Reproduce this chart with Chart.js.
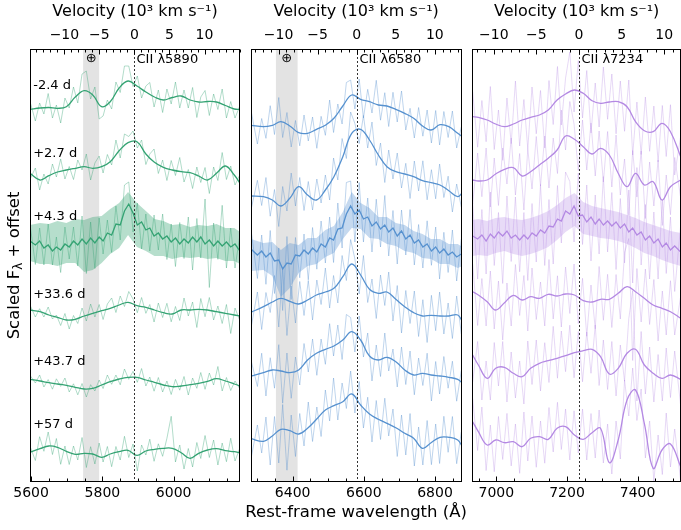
<!DOCTYPE html>
<html>
<head>
<meta charset="utf-8">
<script src="https://cdn.jsdelivr.net/npm/chart.js@4.4.1/dist/chart.umd.min.js"></script>
<style>
  body { margin: 0; background: #fff; }
  #wrap { position: relative; width: 681px; height: 530px; }
  #wrap canvas { position: absolute; left: 0; top: 0; }
</style>
</head>
<body>
<div id="wrap">
  <canvas id="c1" width="681" height="530"></canvas>
  <canvas id="c2" width="681" height="530"></canvas>
  <canvas id="c3" width="681" height="530"></canvas>
</div>
<script>
// ---------- tick labels / labels ----------
var waveTicks1 = [5600, 5800, 6000];
var waveTicks2 = [6400, 6600, 6800];
var waveTicks3 = [7000, 7200, 7400];
var velTicks = [-10, -5, 0, 5, 10];
var epochs = ['-2.4 d', '+2.7 d', '+4.3 d', '+33.6 d', '+43.7 d', '+57 d'];
var lineNames = ['CII λ5890', 'CII λ6580', 'CII λ7234'];
var lineRest = [5890, 6580, 7234];

// ---------- CII 5890 (green) ----------
var wlS1 = [5597, 5625, 5650, 5674, 5699, 5724, 5749, 5773, 5798, 5822, 5847, 5872, 5897, 5922, 5946, 5971, 5996, 6021, 6046, 6070, 6095, 6120, 6145, 6170, 6186];
var wlR1 = [5597, 5612, 5624, 5636, 5648, 5660, 5671, 5683, 5695, 5707, 5719, 5731, 5743, 5755, 5767, 5779, 5791, 5802, 5814, 5826, 5838, 5850, 5862, 5874, 5886, 5898, 5910, 5922, 5933, 5945, 5957, 5969, 5981, 5993, 6005, 6017, 6029, 6041, 6053, 6065, 6076, 6088, 6100, 6112, 6124, 6136, 6148, 6160, 6172, 6186];

var smooth1A = [37.25, 37.4, 37.45, 37.37, 37.53, 38.5, 39.13, 38.7, 37.53, 38.03, 39.4, 40.1, 39.6, 39.0, 38.5, 38.2, 38.45, 38.6, 38.2, 38.0, 38.05, 38.0, 37.65, 37.3, 37.25];
var raw1A = [38.05, 36.1, 37.9, 36.8, 38.85, 36.4, 37.7, 35.9, 38.4, 37.4, 39.5, 37.9, 40.8, 41.1, 38.3, 39.5, 36.3, 36.6, 38.2, 37.3, 40.0, 38.95, 41.6, 41.6, 39.55, 40.6, 38.4, 39.6, 39.95, 37.5, 39.2, 36.95, 39.3, 37.8, 40.0, 37.4, 39.2, 37.4, 39.45, 36.45, 38.5, 39.15, 36.65, 38.8, 37.25, 39.3, 36.4, 38.05, 36.4, 37.65];
var smooth1B = [30.87, 30.2, 30.63, 31.0, 31.2, 31.37, 31.53, 31.37, 31.53, 32.03, 33.13, 33.93, 34.03, 32.8, 31.97, 31.47, 31.2, 31.03, 30.93, 30.6, 30.2, 30.87, 31.6, 30.7, 29.87];
var raw1B = [30.27, 31.4, 29.2, 30.8, 29.8, 31.8, 30.5, 32.3, 30.3, 31.55, 30.25, 32.2, 31.2, 32.8, 30.2, 31.9, 32.6, 30.9, 32.75, 31.7, 34.2, 32.4, 34.8, 34.55, 35.1, 33.4, 34.2, 31.75, 32.8, 33.3, 30.85, 32.2, 30.15, 32.15, 30.65, 32.45, 30.0, 31.25, 29.35, 31.5, 29.95, 31.45, 28.85, 31.5, 30.15, 32.95, 30.25, 31.6, 29.7, 30.75];
var dark1C = [24.1, 23.7, 24.1, 23.4, 23.7, 23.1, 23.5, 23.2, 23.8, 23.5, 24.1, 23.7, 24.3, 23.8, 24.4, 23.9, 24.5, 24.1, 24.9, 24.7, 25.8, 25.7, 27.1, 27.8, 26.9, 25.7, 26.0, 25.2, 25.4, 24.6, 24.9, 24.3, 24.6, 24.0, 24.4, 23.8, 24.3, 23.9, 24.5, 24.0, 24.5, 23.8, 24.2, 23.6, 24.1, 23.6, 24.0, 23.5, 23.8, 23.1];
var raw1C = [25.8, 21.75, 25.4, 21.7, 25.8, 21.7, 24.5, 20.95, 25.5, 22.3, 25.5, 21.6, 26.6, 20.85, 26.0, 21.35, 26.4, 22.8, 26.2, 22.95, 27.6, 24.2, 29.7, 30.0, 25.0, 27.9, 23.3, 26.8, 23.1, 26.7, 23.2, 26.8, 22.25, 25.8, 21.55, 25.95, 22.35, 26.5, 21.2, 26.35, 22.4, 28.3, 19.45, 25.9, 22.27, 27.67, 21.4, 25.4, 21.4, 24.75];
var hi1C = [25.7, 25.9, 25.8, 26.1, 25.9, 26.3, 26.2, 26.5, 26.6, 27.3, 27.9, 29.0, 27.9, 27.1, 26.3, 26.1, 25.7, 25.8, 25.5, 25.7, 25.6, 25.8, 25.4, 25.4, 25.0];
var lo1C = [22.1, 21.8, 21.8, 21.6, 21.9, 21.9, 21.0, 21.2, 21.9, 22.8, 23.4, 24.7, 23.5, 23.1, 22.6, 22.6, 22.3, 22.5, 22.4, 22.5, 22.3, 22.4, 22.1, 22.1, 21.8];
var smooth1D = [17.2, 17.03, 16.7, 16.47, 16.2, 16.27, 16.6, 16.87, 17.13, 17.37, 17.7, 17.97, 17.63, 17.47, 17.2, 16.93, 16.8, 17.2, 17.2, 17.27, 17.2, 17.03, 16.87, 16.7, 16.6];
var raw1D = [17.7, 16.5, 17.33, 16.5, 17.5, 16.3, 16.7, 15.65, 16.85, 15.3, 16.65, 15.85, 17.4, 16.1, 17.8, 16.5, 17.75, 16.25, 17.8, 18.4, 16.95, 18.6, 17.55, 19.05, 18.3, 16.93, 18.45, 16.87, 17.75, 16.0, 17.9, 16.45, 17.87, 16.02, 17.55, 16.15, 18.4, 16.6, 18.0, 15.45, 18.35, 16.53, 18.45, 16.2, 17.6, 15.85, 17.75, 14.85, 17.4, 16.1];
var smooth1E = [10.27, 10.1, 9.93, 9.8, 9.67, 9.47, 9.3, 9.37, 9.7, 10.03, 10.3, 10.47, 10.47, 10.2, 9.97, 9.7, 9.53, 9.6, 9.73, 9.87, 10.07, 10.33, 10.1, 9.8, 9.6];
var raw1E = [10.67, 9.9, 10.7, 9.5, 10.24, 9.28, 10.32, 9.56, 10.4, 9.0, 9.82, 8.72, 9.85, 8.5, 9.73, 9.1, 10.2, 9.35, 10.7, 9.77, 10.7, 9.72, 11.3, 10.27, 11.07, 9.97, 11.35, 9.6, 10.5, 9.08, 10.45, 9.0, 10.1, 8.75, 10.26, 9.18, 10.55, 8.7, 10.4, 9.37, 10.95, 9.27, 10.9, 9.7, 11.55, 9.1, 10.45, 9.15, 10.1, 9.3];
var smooth1F = [2.97, 3.33, 3.6, 3.47, 3.07, 2.77, 2.87, 2.8, 2.47, 2.8, 3.03, 3.17, 2.67, 3.1, 3.27, 3.37, 3.37, 2.93, 2.37, 2.87, 3.2, 3.33, 3.13, 3.03, 2.93];
var raw1F = [3.57, 2.15, 4.53, 3.07, 5.0, 2.75, 4.35, 1.77, 3.6, 1.75, 3.6, 2.2, 4.45, 1.45, 3.53, 1.8, 3.9, 2.0, 3.55, 1.53, 3.55, 2.2, 4.57, 2.45, 3.8, 1.1, 3.7, 2.7, 4.28, 2.07, 3.82, 2.57, 4.37, 6.57, 2.0, 3.7, 1.3, 3.35, 1.5, 3.95, 2.35, 4.65, 2.45, 4.2, 1.7, 3.9, 2.03, 4.38, 2.1, 3.43];

// ---------- CII 6580 (blue) ----------
var wlS2 = [6283, 6318, 6343, 6367, 6392, 6417, 6442, 6467, 6492, 6516, 6541, 6566, 6591, 6616, 6641, 6665, 6690, 6715, 6740, 6765, 6789, 6814, 6839, 6864, 6877];
var wlR2 = [6283, 6301, 6313, 6325, 6337, 6349, 6361, 6372, 6384, 6396, 6408, 6420, 6432, 6444, 6456, 6468, 6480, 6492, 6504, 6515, 6527, 6539, 6551, 6563, 6575, 6587, 6599, 6611, 6623, 6635, 6647, 6659, 6670, 6682, 6694, 6706, 6718, 6730, 6742, 6754, 6766, 6778, 6790, 6802, 6813, 6825, 6837, 6849, 6861, 6874];

var smooth2A = [35.67, 35.53, 35.67, 36.03, 35.6, 34.93, 34.87, 35.27, 35.67, 36.37, 37.6, 38.7, 38.27, 38.03, 37.7, 37.6, 37.27, 36.87, 36.37, 35.6, 35.2, 35.73, 35.53, 34.87, 34.53];
var raw2A = [37.17, 33.8, 36.35, 34.37, 37.63, 34.75, 38.45, 34.45, 36.95, 33.5, 36.15, 33.62, 36.7, 34.1, 36.5, 33.37, 36.57, 34.67, 38.2, 34.95, 37.8, 35.8, 39.95, 40.2, 37.3, 40.3, 36.4, 39.27, 36.9, 40.17, 36.18, 38.93, 35.55, 38.97, 36.0, 39.1, 35.2, 37.37, 34.4, 37.45, 34.58, 37.2, 33.9, 37.15, 33.7, 37.05, 34.45, 37.1, 33.4, 35.5];
var smooth2B = [28.6, 28.53, 28.2, 27.6, 28.37, 29.53, 28.7, 28.2, 29.2, 30.53, 32.53, 34.87, 35.27, 34.2, 32.7, 31.53, 31.03, 30.8, 30.53, 30.13, 29.93, 29.7, 29.13, 28.53, 28.93];
var raw2B = [27.2, 30.17, 27.65, 30.45, 26.58, 29.25, 25.55, 29.55, 27.1, 30.9, 27.6, 30.45, 27.15, 30.05, 27.2, 30.3, 27.9, 30.7, 28.2, 32.4, 30.2, 34.35, 32.35, 37.0, 35.85, 33.85, 36.65, 33.4, 36.0, 31.65, 33.9, 29.95, 33.2, 30.3, 32.9, 29.4, 31.87, 28.35, 32.1, 29.1, 32.12, 28.22, 31.23, 28.32, 31.8, 28.45, 30.58, 27.0, 29.8, 27.5];
var dark2C = [23.3, 22.7, 23.1, 22.5, 22.9, 22.1, 22.2, 21.3, 21.9, 21.8, 22.7, 22.6, 23.2, 22.8, 23.4, 23.0, 23.8, 23.5, 24.4, 24.2, 25.3, 25.4, 26.8, 27.6, 26.8, 27.2, 26.3, 26.5, 25.6, 26.0, 25.3, 25.7, 25.0, 25.4, 24.6, 25.1, 24.3, 24.7, 23.9, 24.2, 23.5, 23.8, 23.1, 23.5, 22.9, 23.3, 22.7, 23.0, 22.5, 22.8];
var raw2C = [25.25, 20.35, 24.7, 19.77, 25.15, 18.85, 23.4, 17.15, 24.55, 18.25, 24.45, 20.42, 24.8, 20.22, 25.45, 21.28, 26.1, 21.9, 26.5, 21.95, 27.9, 23.4, 29.95, 30.1, 24.0, 29.95, 24.0, 28.4, 23.0, 28.28, 23.5, 28.65, 22.6, 27.15, 21.8, 27.2, 22.7, 27.25, 21.7, 25.75, 21.4, 26.12, 21.67, 25.5, 20.3, 24.97, 20.95, 25.2, 20.1, 24.3];
var hi2C = [24.3, 23.9, 24.0, 23.2, 23.9, 23.7, 24.4, 24.4, 25.2, 25.6, 27.0, 29.0, 27.9, 27.4, 26.5, 26.5, 25.9, 25.7, 25.1, 24.8, 24.3, 24.3, 23.8, 23.8, 23.5];
var lo2C = [21.1, 21.2, 20.6, 18.5, 19.4, 20.9, 21.6, 21.8, 22.5, 22.9, 24.3, 25.4, 25.3, 24.4, 24.3, 23.8, 23.6, 23.1, 22.9, 22.4, 22.3, 21.8, 21.8, 21.4, 21.6];
var smooth2D = [16.97, 17.53, 18.0, 18.37, 18.07, 17.8, 18.2, 18.7, 19.0, 19.37, 20.53, 21.8, 20.7, 19.27, 18.87, 19.0, 18.27, 17.53, 16.93, 16.6, 16.67, 16.6, 16.6, 16.7, 16.03];
var raw2D = [15.4, 19.0, 15.25, 18.95, 16.95, 20.65, 15.5, 21.3, 14.65, 19.6, 15.9, 20.05, 16.65, 20.15, 16.2, 20.2, 17.75, 21.4, 17.4, 20.65, 17.9, 22.65, 20.15, 24.25, 22.3, 18.8, 22.65, 17.95, 20.3, 16.35, 20.7, 17.65, 21.0, 16.1, 19.65, 14.9, 19.15, 15.85, 19.1, 14.55, 18.23, 13.95, 18.67, 15.13, 19.0, 14.8, 17.9, 14.35, 18.6, 14.8];
var smooth2E = [10.6, 10.93, 11.2, 11.1, 10.93, 11.2, 12.2, 12.87, 13.27, 13.6, 14.2, 15.03, 14.2, 12.6, 12.2, 12.47, 12.03, 11.2, 10.7, 10.87, 10.7, 10.6, 10.47, 10.27, 9.87];
var raw2E = [12.2, 9.55, 12.88, 8.6, 12.43, 9.38, 13.73, 7.88, 12.9, 8.37, 12.5, 9.7, 13.85, 11.0, 14.3, 10.67, 14.3, 11.77, 15.83, 12.6, 15.7, 12.25, 16.75, 16.45, 13.0, 16.6, 12.5, 14.9, 10.1, 13.7, 10.55, 14.9, 11.1, 13.3, 9.5, 13.5, 9.75, 13.1, 8.72, 12.4, 9.65, 12.88, 8.1, 12.05, 8.8, 12.55, 9.38, 12.08, 8.08, 11.15];
var smooth2F = [4.33, 4.07, 4.6, 5.27, 5.13, 4.8, 5.37, 6.27, 7.2, 7.63, 8.03, 8.8, 7.7, 6.8, 6.27, 5.87, 5.43, 4.87, 4.37, 3.37, 3.93, 4.47, 4.47, 4.2, 3.53];
var raw2F = [2.33, 5.7, 2.9, 6.5, 1.7, 6.55, 1.9, 7.75, 1.18, 6.7, 2.55, 6.85, 3.6, 8.0, 4.05, 7.5, 4.55, 9.2, 6.1, 10.4, 6.2, 9.9, 7.35, 11.1, 6.9, 10.05, 5.4, 8.48, 4.0, 8.15, 4.25, 8.38, 4.6, 7.3, 2.55, 6.7, 2.7, 6.85, 1.6, 5.5, 1.7, 6.15, 1.73, 5.8, 1.85, 6.57, 2.97, 6.55, 1.83, 5.0];

// ---------- CII 7234 (purple) ----------
var wlS3 = [6933, 6949, 6974, 6998, 7023, 7048, 7073, 7097, 7122, 7147, 7172, 7196, 7221, 7246, 7271, 7295, 7320, 7345, 7370, 7394, 7419, 7444, 7469, 7493, 7522];
var wlR3 = [6933, 6947, 6959, 6971, 6983, 6994, 7006, 7018, 7030, 7042, 7054, 7066, 7078, 7089, 7101, 7113, 7125, 7137, 7149, 7161, 7173, 7184, 7196, 7208, 7220, 7232, 7244, 7256, 7268, 7280, 7291, 7303, 7315, 7327, 7339, 7351, 7363, 7375, 7386, 7398, 7410, 7422, 7434, 7446, 7458, 7470, 7481, 7493, 7505, 7522];

var smooth3A = [36.53, 36.47, 36.2, 35.8, 35.53, 35.8, 36.2, 36.47, 36.7, 37.2, 38.2, 38.8, 39.2, 38.87, 38.13, 37.87, 38.0, 38.03, 37.53, 36.03, 35.13, 35.03, 35.87, 35.03, 32.53];
var raw3A = [39.03, 33.48, 38.15, 34.03, 39.55, 33.25, 37.2, 32.17, 38.4, 33.83, 40.1, 33.6, 38.25, 33.3, 39.5, 34.82, 39.15, 33.4, 40.15, 35.75, 41.55, 35.7, 40.4, 43.0, 37.0, 42.15, 36.4, 41.15, 34.9, 39.9, 35.5, 41.5, 36.27, 40.8, 34.82, 40.1, 35.07, 40.2, 32.7, 38.0, 32.75, 38.5, 33.07, 37.6, 32.0, 37.65, 32.55, 37.73, 30.7, 34.6];
var smooth3B = [30.2, 30.1, 30.2, 30.8, 31.27, 31.43, 30.6, 31.03, 31.7, 32.37, 33.2, 34.6, 34.27, 33.53, 32.8, 33.37, 32.7, 30.87, 29.53, 30.87, 29.7, 30.03, 28.2, 29.53, 30.2];
var raw3B = [27.8, 32.9, 28.53, 33.4, 27.5, 32.4, 27.65, 33.4, 29.8, 34.4, 28.7, 32.85, 27.2, 33.3, 29.3, 34.55, 29.6, 34.6, 29.4, 34.4, 30.85, 37.2, 33.2, 38.05, 35.8, 31.15, 36.2, 31.2, 35.9, 30.6, 35.1, 30.0, 35.05, 29.5, 34.7, 28.7, 32.3, 26.65, 33.15, 28.5, 33.1, 26.35, 32.0, 27.6, 32.2, 25.65, 30.7, 26.73, 32.45, 28.4];
var dark3C = [24.6, 24.3, 24.7, 24.1, 24.8, 24.4, 25.0, 24.6, 25.1, 24.4, 24.7, 24.2, 24.7, 24.3, 24.9, 24.6, 25.2, 24.9, 25.6, 25.5, 26.3, 26.1, 27.1, 26.8, 27.6, 26.6, 26.7, 26.0, 26.5, 25.8, 26.3, 25.7, 26.1, 25.6, 26.0, 25.4, 25.8, 25.0, 25.4, 24.7, 25.0, 24.2, 24.6, 23.9, 24.3, 23.5, 23.9, 23.2, 23.6, 23.0];
var raw3C = [27.9, 20.3, 27.25, 20.8, 29.0, 21.65, 26.95, 19.85, 28.6, 22.05, 28.5, 21.02, 26.95, 20.15, 27.85, 22.0, 29.75, 21.65, 28.25, 21.8, 29.65, 23.9, 31.0, 30.05, 24.0, 30.9, 23.75, 29.7, 22.1, 28.7, 22.8, 30.55, 23.0, 28.95, 21.25, 28.35, 21.9, 29.2, 19.9, 31.45, 21.7, 27.75, 20.3, 27.0, 20.3, 28.2, 20.85, 26.5, 19.05, 25.7];
var hi3C = [26.2, 26.3, 26.1, 26.4, 26.5, 26.3, 26.2, 26.4, 26.7, 27.1, 27.7, 28.4, 28.9, 28.0, 27.6, 27.4, 27.2, 27.0, 26.7, 26.4, 26.0, 25.7, 25.4, 25.1, 24.9];
var lo3C = [22.6, 22.7, 22.6, 22.9, 23.1, 22.8, 22.6, 22.8, 23.1, 23.5, 24.2, 25.0, 25.6, 24.8, 24.6, 24.4, 24.3, 24.1, 23.8, 23.4, 22.9, 22.6, 22.2, 21.9, 21.6];
var smooth3D = [19.03, 18.7, 18.03, 17.2, 17.93, 18.67, 18.2, 18.53, 18.37, 18.77, 18.6, 18.8, 18.7, 18.13, 18.0, 18.27, 18.27, 18.87, 19.53, 19.03, 18.37, 17.7, 17.37, 17.03, 16.37];
var raw3D = [21.8, 15.65, 20.35, 15.6, 21.1, 15.3, 20.1, 14.2, 19.9, 15.6, 21.75, 16.65, 20.65, 15.1, 21.4, 16.25, 20.0, 15.6, 22.25, 16.3, 20.62, 15.5, 21.5, 16.85, 21.8, 15.85, 20.37, 14.58, 19.7, 15.33, 21.55, 16.17, 20.77, 15.45, 20.75, 16.3, 22.95, 24.35, 12.15, 21.35, 16.0, 21.3, 15.75, 20.25, 14.1, 19.1, 14.7, 20.13, 14.7, 18.6];
var smooth3E = [12.7, 11.7, 10.37, 11.37, 11.47, 10.87, 10.53, 11.37, 11.87, 12.13, 12.37, 12.63, 12.93, 13.13, 13.27, 12.53, 10.8, 11.37, 12.87, 13.27, 11.7, 10.87, 10.37, 10.7, 10.27];
var raw3E = [10.0, 14.05, 8.2, 12.1, 8.2, 13.95, 9.6, 14.05, 8.0, 13.0, 8.4, 12.1, 7.8, 14.1, 9.75, 14.2, 9.1, 13.93, 9.95, 15.57, 10.38, 15.1, 11.03, 15.68, 10.42, 15.05, 10.02, 15.0, 10.87, 15.7, 9.65, 14.2, 9.25, 14.05, 8.6, 13.7, 10.08, 16.35, 19.15, 8.1, 15.05, 8.8, 13.5, 8.0, 12.75, 8.1, 13.4, 8.45, 13.1, 7.6];
var smooth3F = [6.03, 5.03, 3.7, 4.2, 3.93, 4.03, 3.53, 4.37, 4.53, 4.27, 5.37, 5.53, 4.7, 4.27, 4.93, 5.37, 1.93, 4.2, 8.2, 9.2, 5.87, 1.37, 3.2, 3.8, 1.53];
var raw3F = [8.35, 3.15, 7.5, 1.15, 5.7, 1.03, 6.55, 2.25, 6.86, 1.61, 5.8, 0.87, 7.0, 2.1, 6.6, 1.47, 6.1, 1.88, 7.45, 3.0, 7.97, 3.25, 7.3, 2.2, 7.12, 2.9, 7.3, 2.2, 6.85, 2.4, 7.2, 1.9, 5.8, 0.8, 6.1, 2.3, 10.2, 6.6, 11.4, 6.15, 9.3, 2.4, 6.1, 0.1, 4.7, 0.75, 6.9, 1.5, 5.3, 0.1];

// ---------- drawing ----------
var FONT = "'DejaVu Sans', sans-serif";
var C_KMS = 299792.458 / 1000;

function pts(xs, ys) {
    return xs.map(function (x, i) { return {x: x, y: ys[i]}; });
}
function rawSet(xs, ys, col) {
    return {data: pts(xs, ys), borderColor: col, borderWidth: 1, pointRadius: 0, tension: 0, fill: false, order: 3};
}
function smoothSet(xs, ys, col, tension) {
    return {data: pts(xs, ys), borderColor: col, borderWidth: 1.3, pointRadius: 0, tension: tension, fill: false, order: 1};
}
function bandSets(xs, hi, lo, col) {
    return [
        {data: pts(xs, hi), borderColor: 'rgba(0,0,0,0)', borderWidth: 1, pointRadius: 0, tension: 0, fill: '+1', backgroundColor: col, order: 2},
        {data: pts(xs, lo), borderColor: 'rgba(0,0,0,0)', borderWidth: 1, pointRadius: 0, tension: 0, fill: false, order: 2}
    ];
}

var decor = {
    id: 'decor',
    beforeDatasetsDraw: function (chart, args, o) {
        if (!o.telluric) return;
        var ctx = chart.ctx, a = chart.chartArea, sx = chart.scales.x;
        var t0 = sx.getPixelForValue(o.telluric[0]), t1 = sx.getPixelForValue(o.telluric[1]);
        ctx.save();
        ctx.fillStyle = '#e3e3e3';
        ctx.fillRect(t0, a.top, t1 - t0, a.bottom - a.top);
        ctx.restore();
    },
    afterDatasetsDraw: function (chart, args, o) {
        var ctx = chart.ctx, a = chart.chartArea;
        var sx = chart.scales.x, sv = chart.scales.x2, sy = chart.scales.y;
        ctx.save();

        // rest wavelength marker
        var xc = Math.round(sx.getPixelForValue(o.rest)) + 0.5;
        ctx.strokeStyle = '#333';
        ctx.lineWidth = 1;
        ctx.setLineDash([2, 2]);
        ctx.beginPath(); ctx.moveTo(xc, a.top); ctx.lineTo(xc, a.bottom); ctx.stroke();
        ctx.setLineDash([]);

        // frame
        ctx.strokeStyle = '#000';
        var L = Math.floor(a.left) + 0.5, T = Math.floor(a.top) + 0.5;
        var R = Math.ceil(a.right) - 0.5, B = Math.ceil(a.bottom) - 0.5;
        ctx.strokeRect(L, T, R - L, B - T);

        // inward ticks, major + minor
        var v, p;
        for (v = Math.ceil(sx.min / 50) * 50; v <= sx.max; v += 50) {
            p = Math.round(sx.getPixelForValue(v)) + 0.5;
            var len = o.majors.indexOf(v) >= 0 ? 5 : 3;
            ctx.beginPath(); ctx.moveTo(p, B); ctx.lineTo(p, B - len); ctx.stroke();
        }
        for (v = Math.ceil(sv.min); v <= sv.max; v += 1) {
            p = Math.round(sv.getPixelForValue(v)) + 0.5;
            var len2 = velTicks.indexOf(v) >= 0 ? 5 : 3;
            ctx.beginPath(); ctx.moveTo(p, T); ctx.lineTo(p, T + len2); ctx.stroke();
        }

        ctx.fillStyle = '#000';
        ctx.textBaseline = 'middle';
        ctx.font = '13px ' + FONT;
        ctx.textAlign = 'left';
        ctx.fillText(o.label, xc + 2, sy.getPixelForValue(42.2));

        if (o.telluric) {
            ctx.textAlign = 'center';
            var tm = (sx.getPixelForValue(o.telluric[0]) + sx.getPixelForValue(o.telluric[1])) / 2;
            ctx.fillText('\u2295', tm, sy.getPixelForValue(42.3));
        }

        if (o.epochY) {
            ctx.textAlign = 'left';
            ctx.font = '13px ' + FONT;
            epochs.forEach(function (e, i) {
                ctx.fillText(e, sx.getPixelForValue(5606), sy.getPixelForValue(o.epochY[i]));
            });
        }

        if (o.xTitle) {
            ctx.textAlign = 'center';
            ctx.font = '16.5px ' + FONT;
            ctx.fillText(o.xTitle, (a.left + a.right) / 2, a.bottom + 31);
        }

        if (o.yTitle) {
            ctx.translate(15, (a.top + a.bottom) / 2);
            ctx.rotate(-Math.PI / 2);
            ctx.textAlign = 'left';
            var big = '16.5px ' + FONT, small = '12px ' + FONT;
            ctx.font = big;
            var w1 = ctx.measureText('Scaled F').width, w3 = ctx.measureText(' + offset').width;
            ctx.font = small;
            var w2 = ctx.measureText('\u03bb').width;
            var x0 = -(w1 + w2 + w3) / 2;
            ctx.font = big;
            ctx.fillText('Scaled F', x0, 0);
            ctx.font = small;
            ctx.fillText('\u03bb', x0 + w1, 4);
            ctx.font = big;
            ctx.fillText(' + offset', x0 + w1 + w2, 0);
        }
        ctx.restore();
    }
};

function makePanel(id, xmin, xmax, rest, majors, datasets, pad, extra) {
    var tickFont = {family: FONT, size: 14};
    var deco = {rest: rest, majors: majors, label: extra.label, telluric: extra.telluric,
                epochY: extra.epochY, xTitle: extra.xTitle, yTitle: extra.yTitle};
    return new Chart(document.getElementById(id), {
        type: 'line',
        data: {datasets: datasets},
        plugins: [decor],
        options: {
            responsive: false,
            devicePixelRatio: 1,
            animation: false,
            events: [],
            layout: {padding: {left: pad[0], right: pad[1], top: 0, bottom: 0}},
            plugins: {legend: {display: false}, tooltip: {enabled: false}, decor: deco},
            scales: {
                x: {
                    type: 'linear', position: 'bottom', min: xmin, max: xmax,
                    grid: {display: false, drawTicks: false}, border: {display: false},
                    ticks: {font: tickFont, color: '#000', padding: 2.6, maxRotation: 0, autoSkip: false,
                            callback: function (v) { return String(v); }},
                    afterBuildTicks: function (s) { s.ticks = majors.map(function (v) { return {value: v}; }); },
                    afterFit: function (s) { s.height = 48; s.paddingLeft = 0; s.paddingRight = 0; }
                },
                x2: {
                    type: 'linear', position: 'top',
                    min: C_KMS * (xmin / rest - 1), max: C_KMS * (xmax / rest - 1),
                    grid: {display: false, drawTicks: false}, border: {display: false},
                    ticks: {font: tickFont, color: '#000', padding: 5.6, maxRotation: 0, autoSkip: false,
                            callback: function (v) { return v < 0 ? '\u2212' + (-v) : String(v); }},
                    afterBuildTicks: function (s) { s.ticks = velTicks.map(function (v) { return {value: v}; }); },
                    afterFit: function (s) { s.height = 49; s.paddingLeft = 0; s.paddingRight = 0; },
                    title: {display: true, text: 'Velocity (10\u00b3 km s\u207b\u00b9)', color: '#000',
                            font: {family: FONT, size: 16}, padding: {top: 2.4, bottom: 0}}
                },
                y: {display: false, min: 0, max: 43.3}
            }
        }
    });
}

// green panel
var GREEN = 'rgb(52,163,115)', GREEN_L = 'rgba(52,163,115,0.38)';
var sets1 = [
    rawSet(wlR1, raw1A, GREEN_L), smoothSet(wlS1, smooth1A, GREEN, 0.4),
    rawSet(wlR1, raw1B, GREEN_L), smoothSet(wlS1, smooth1B, GREEN, 0.4),
    rawSet(wlR1, raw1C, GREEN_L)
].concat(bandSets(wlS1, hi1C, lo1C, 'rgba(52,163,115,0.36)')).concat([
    smoothSet(wlR1, dark1C, GREEN, 0),
    rawSet(wlR1, raw1D, GREEN_L), smoothSet(wlS1, smooth1D, GREEN, 0.4),
    rawSet(wlR1, raw1E, GREEN_L), smoothSet(wlS1, smooth1E, GREEN, 0.4),
    rawSet(wlR1, raw1F, GREEN_L), smoothSet(wlS1, smooth1F, GREEN, 0.4)
]);
makePanel('c1', 5597, 6186, lineRest[0], waveTicks1, sets1, [30, 441], {
    label: lineNames[0], telluric: [5746, 5791],
    epochY: [39.6, 32.85, 26.55, 18.75, 12.05, 5.75], yTitle: true
});

// blue panel
var BLUE = 'rgb(86,145,207)', BLUE_L = 'rgba(86,145,207,0.38)';
var sets2 = [
    rawSet(wlR2, raw2A, BLUE_L), smoothSet(wlS2, smooth2A, BLUE, 0.4),
    rawSet(wlR2, raw2B, BLUE_L), smoothSet(wlS2, smooth2B, BLUE, 0.4),
    rawSet(wlR2, raw2C, BLUE_L)
].concat(bandSets(wlS2, hi2C, lo2C, 'rgba(86,145,207,0.34)')).concat([
    smoothSet(wlR2, dark2C, BLUE, 0),
    rawSet(wlR2, raw2D, BLUE_L), smoothSet(wlS2, smooth2D, BLUE, 0.4),
    rawSet(wlR2, raw2E, BLUE_L), smoothSet(wlS2, smooth2E, BLUE, 0.4),
    rawSet(wlR2, raw2F, BLUE_L), smoothSet(wlS2, smooth2F, BLUE, 0.4)
]);
makePanel('c2', 6283, 6874, lineRest[1], waveTicks2, sets2, [251, 219.7], {
    label: lineNames[1], telluric: [6353, 6414], xTitle: 'Rest-frame wavelength (\u00c5)'
});

// purple panel
var PURPLE = 'rgb(180,137,227)', PURPLE_L = 'rgba(180,137,227,0.32)';
var sets3 = [
    rawSet(wlR3, raw3A, PURPLE_L), smoothSet(wlS3, smooth3A, PURPLE, 0.4),
    rawSet(wlR3, raw3B, PURPLE_L), smoothSet(wlS3, smooth3B, PURPLE, 0.4),
    rawSet(wlR3, raw3C, PURPLE_L)
].concat(bandSets(wlS3, hi3C, lo3C, 'rgba(180,137,227,0.3)')).concat([
    smoothSet(wlR3, dark3C, PURPLE, 0),
    rawSet(wlR3, raw3D, PURPLE_L), smoothSet(wlS3, smooth3D, PURPLE, 0.4),
    rawSet(wlR3, raw3E, PURPLE_L), smoothSet(wlS3, smooth3E, PURPLE, 0.4),
    rawSet(wlR3, raw3F, PURPLE_L), smoothSet(wlS3, smooth3F, PURPLE, 0.4)
]);
makePanel('c3', 6933, 7522, lineRest[2], waveTicks3, sets3, [472.7, 0.3], {
    label: lineNames[2]
});
</script>
</body>
</html>
